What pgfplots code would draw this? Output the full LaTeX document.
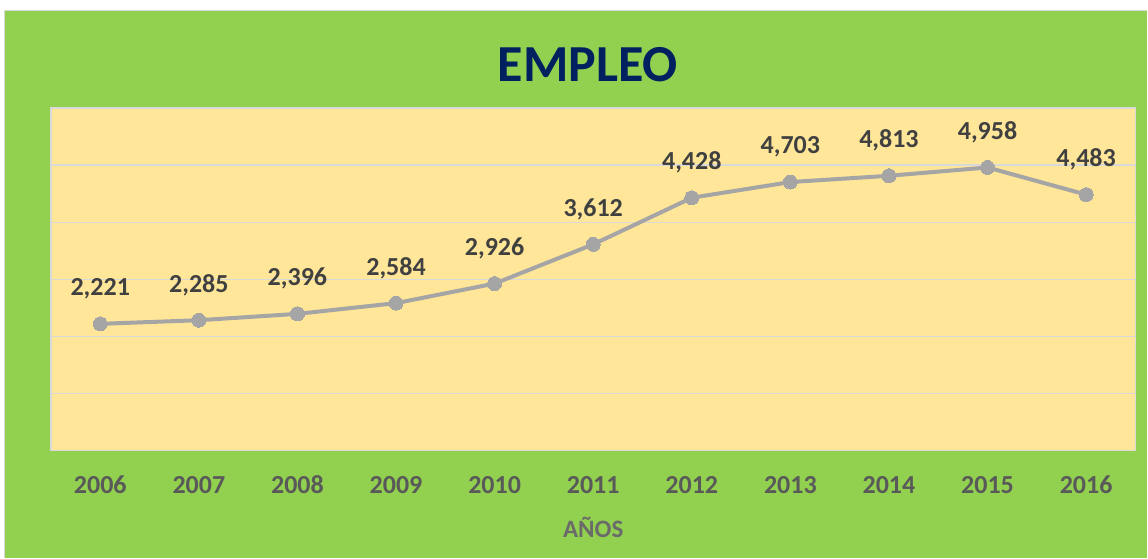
\documentclass[border=0pt]{standalone}
\usepackage{fontspec}
\setmainfont{Carlito}
\usepackage{pgfplots}
\pgfplotsset{compat=1.18}
\definecolor{bggreen}{HTML}{92D050}
\definecolor{plotyellow}{HTML}{FFE699}
\definecolor{gridgray}{HTML}{D9D9D9}
\definecolor{linegray}{HTML}{A5A5A5}
\definecolor{titleblue}{HTML}{002060}
\definecolor{labeldark}{HTML}{404040}
\definecolor{tickgray}{HTML}{595959}
\begin{document}
\begin{tikzpicture}[x=1pt,y=1pt]
\fill[white] (0,0) rectangle (1148,558);
\fill[bggreen] (4,0) rectangle (1148,548);
\draw[gridgray, line width=1.2pt] (4.6,0) -- (4.6,547.4) -- (1148,547.4);
\node[font=\fontsize{52}{60}\selectfont\bfseries, text=titleblue] at (588,493) {EMPLEO};
\begin{axis}[
  at={(51pt,107pt)}, anchor=south west,
  scale only axis, width=1085pt, height=343pt,
  xmin=-0.5, xmax=10.5, ymin=0, ymax=6000,
  ytick={0,1000,...,6000}, yticklabels={},
  ymajorgrids, grid style={gridgray, line width=1.2pt},
  axis background/.style={fill=plotyellow},
  axis line style={gridgray, line width=1.2pt},
  major tick length=0pt,
  xtick=data,
  xticklabels={2006,2007,2008,2009,2010,2011,2012,2013,2014,2015,2016},
  xticklabel style={anchor=center, yshift=-34pt, font=\fontsize{26}{30}\selectfont\bfseries, text=tickgray},
  xlabel={AÑOS},
  xlabel style={at={(axis description cs:0.5,0)}, anchor=center, yshift=-77pt, font=\fontsize{25}{30}\selectfont\bfseries, text=tickgray!90},
  clip=false,
  nodes near coords,
  point meta=explicit symbolic,
  every node near coord/.append style={anchor=center, yshift=35pt, font=\fontsize{26}{30}\selectfont\bfseries, text=labeldark},
]
\addplot[color=linegray, line width=4pt, mark=*, mark size=7pt, mark options={fill=linegray, draw=linegray, line width=0pt}]
coordinates {
(0,2221) [2,221]
(1,2285) [2,285]
(2,2396) [2,396]
(3,2584) [2,584]
(4,2926) [2,926]
(5,3612) [3,612]
(6,4428) [4,428]
(7,4703) [4,703]
(8,4813) [4,813]
(9,4958) [4,958]
(10,4483) [4,483]
};
\end{axis}
\end{tikzpicture}
\end{document}
